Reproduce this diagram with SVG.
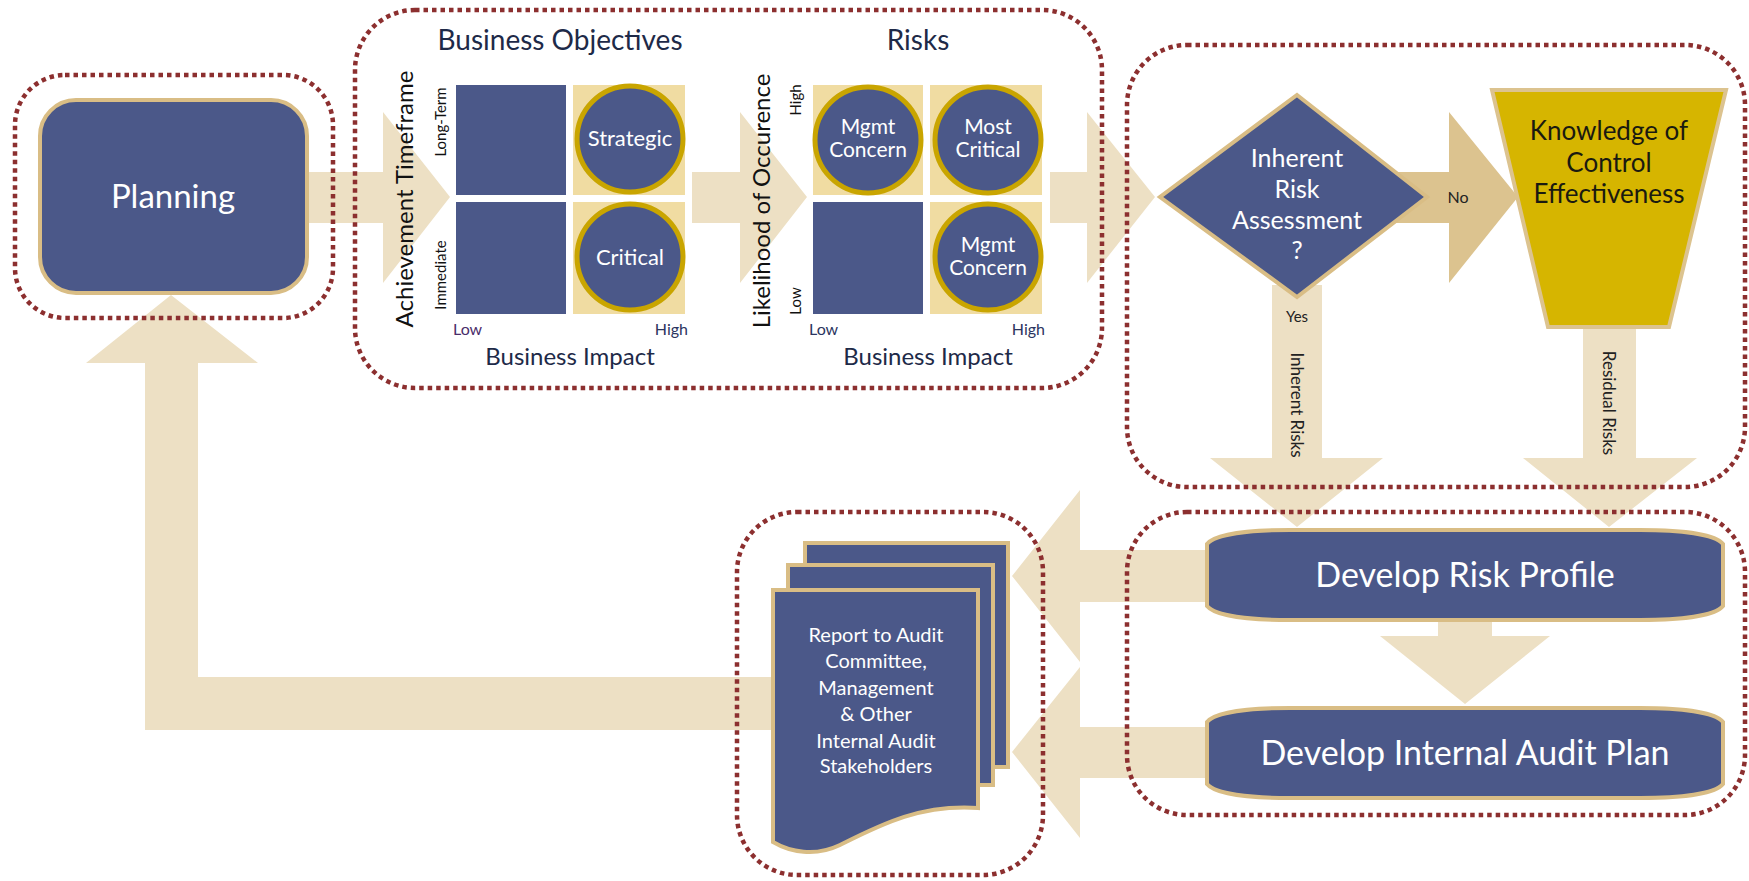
<svg xmlns="http://www.w3.org/2000/svg" width="1749" height="881" viewBox="0 0 1749 881">
<style>
.arrow{fill:#ede0c4}
.arrowd{fill:#dcc38f}
.dot{fill:none;stroke:#8c2f2f;stroke-width:4.5;stroke-dasharray:4.5 4}
.blue{fill:#4b5889}
.node{fill:#4b5889;stroke:#d9bd85;stroke-width:4}
.q{fill:#f0dca2}
.ring{fill:#4b5889;stroke:#c9a500;stroke-width:5}
text{font-family:Lato,"Open Sans","Liberation Sans",sans-serif}
.w{fill:#ffffff;text-anchor:middle}
.t{fill:#1e2a48;text-anchor:middle}
.ax{fill:#111111;text-anchor:middle}
.lh{fill:#2b3560;font-size:16px}
.c{font-size:21px}
.d{font-size:25px}
</style>
<rect width="1749" height="881" fill="#ffffff"/>
<g id="connectors">
<polygon class="arrow" points="300,172 383,172 383,112 450,197 383,283 383,223 300,223"/>
<polygon class="arrow" points="692,172 740,172 740,112 807,197 740,283 740,223 692,223"/>
<polygon class="arrow" points="1050,172 1087,172 1087,112 1155,197 1087,283 1087,223 1050,223"/>
<polygon class="arrowd" points="1370,172 1449,172 1449,112 1518,197 1449,283 1449,223 1370,223"/>
<polygon class="arrow" points="1272,285 1322,285 1322,458 1383,458 1297,527 1210,458 1272,458"/>
<polygon class="arrow" points="1583,320 1636,320 1636,458 1697,458 1609,527 1523,458 1583,458"/>
<polygon class="arrow" points="1438,612 1492,612 1492,636 1550,636 1465,704 1380,636 1438,636"/>
<polygon class="arrow" points="1215,550 1080,550 1080,490 1012,576 1080,662 1080,602 1215,602"/>
<polygon class="arrow" points="1215,727 1080,727 1080,667 1012,752 1080,838 1080,778 1215,778"/>
<polygon class="arrow" points="790,677 198,677 198,363 258,363 171,295 86,363 145,363 145,730 790,730"/>
<text x="1297" y="322" class="ax" style="font-size:15px;fill:#222">Yes</text>
<text x="1458" y="203" class="ax" style="font-size:16px;fill:#222">No</text>
<text transform="translate(1291,405) rotate(90)" class="ax" style="font-size:17px;fill:#222">Inherent Risks</text>
<text transform="translate(1603,403) rotate(90)" class="ax" style="font-size:17px;fill:#222">Residual Risks</text>
</g>
<g id="groups">
<rect class="dot" x="15" y="75" width="318" height="243" rx="50"/>
<rect class="dot" x="355" y="10" width="747" height="378" rx="60"/>
<rect class="dot" x="1127" y="45" width="618" height="442" rx="60"/>
<rect class="dot" x="1127" y="512" width="618" height="303" rx="60"/>
<rect class="dot" x="737" y="512" width="306" height="363" rx="60"/>
</g>
<g id="planning">
<rect class="node" x="40" y="100" width="267" height="193" rx="36"/>
<text x="173" y="208" class="w" style="font-size:33px">Planning</text>
</g>
<g id="business-objectives">
<text x="560" y="50" class="t" style="font-size:28px">Business Objectives</text>
<rect class="blue" x="456" y="85" width="110" height="110"/>
<rect class="q" x="573" y="85" width="112" height="110"/>
<rect class="blue" x="456" y="202" width="110" height="112"/>
<rect class="q" x="573" y="202" width="112" height="112"/>
<circle class="ring" cx="630" cy="139" r="53"/>
<circle class="ring" cx="630" cy="257" r="53"/>
<text x="630" y="146" class="w" style="font-size:22px">Strategic</text>
<text x="630" y="265" class="w" style="font-size:22px">Critical</text>
<text transform="translate(413,199) rotate(-90)" class="ax" style="font-size:24px">Achievement Timeframe</text>
<text transform="translate(446,122) rotate(-90)" class="ax" style="font-size:15px">Long-Term</text>
<text transform="translate(446,275) rotate(-90)" class="ax" style="font-size:15px">Immediate</text>
<text x="453" y="335" class="lh" style="fill:#4a2d6a">Low</text>
<text x="688" y="335" class="lh" text-anchor="end">High</text>
<text x="570" y="365" class="t" style="font-size:24px">Business Impact</text>
</g>
<g id="risks">
<text x="918" y="50" class="t" style="font-size:28px">Risks</text>
<rect class="q" x="813" y="85" width="110" height="110"/>
<rect class="q" x="930" y="85" width="112" height="110"/>
<rect class="blue" x="813" y="202" width="110" height="112"/>
<rect class="q" x="930" y="202" width="112" height="112"/>
<circle class="ring" cx="868" cy="140" r="53"/>
<circle class="ring" cx="988" cy="140" r="53"/>
<circle class="ring" cx="988" cy="257" r="53"/>
<text x="868" y="134" class="w c">Mgmt</text>
<text x="868" y="157" class="w c">Concern</text>
<text x="988" y="134" class="w c">Most</text>
<text x="988" y="157" class="w c">Critical</text>
<text x="988" y="252" class="w c">Mgmt</text>
<text x="988" y="275" class="w c">Concern</text>
<text transform="translate(770,201) rotate(-90)" class="ax" style="font-size:24px">Likelihood of Occurence</text>
<text transform="translate(801,100) rotate(-90)" class="ax" style="font-size:15px">High</text>
<text transform="translate(801,301) rotate(-90)" class="ax" style="font-size:15px">Low</text>
<text x="809" y="335" class="lh">Low</text>
<text x="1045" y="335" class="lh" text-anchor="end">High</text>
<text x="928" y="365" class="t" style="font-size:24px">Business Impact</text>
</g>
<g id="inherent-risk-assessment">
<polygon class="node" points="1297,95 1427,197 1297,297 1160,197"/>
<text x="1297" y="167" class="w d">Inherent</text>
<text x="1297" y="198" class="w d">Risk</text>
<text x="1297" y="229" class="w d">Assessment</text>
<text x="1297" y="259" class="w d">?</text>
</g>
<g id="knowledge-of-control">
<polygon points="1492,90 1726,90 1669,327 1548,327" style="fill:#d6b500;stroke:#dcc38f;stroke-width:4"/>
<text x="1609" y="140" class="t" style="font-size:26px;fill:#1a1a10">Knowledge of</text>
<text x="1609" y="172" class="t" style="font-size:26px;fill:#1a1a10">Control</text>
<text x="1609" y="203" class="t" style="font-size:26px;fill:#1a1a10">Effectiveness</text>
</g>
<g id="develop-risk-profile">
<path class="node" d="M1207,544 C1215,534 1250,530 1290,530 L1640,530 C1680,530 1715,534 1723,544 L1723,606 C1715,616 1680,620 1640,620 L1290,620 C1250,620 1215,616 1207,606 Z"/>
<text x="1465" y="587" class="w" style="font-size:34px">Develop Risk Profile</text>
</g>
<g id="develop-internal-audit-plan">
<path class="node" d="M1207,722 C1215,712 1250,708 1290,708 L1640,708 C1680,708 1715,712 1723,722 L1723,784 C1715,794 1680,798 1640,798 L1290,798 C1250,798 1215,794 1207,784 Z"/>
<text x="1465" y="765" class="w" style="font-size:34px">Develop Internal Audit Plan</text>
</g>
<g id="report">
<rect class="node" x="805" y="543" width="203" height="224"/>
<rect class="node" x="788" y="565" width="205" height="220"/>
<path class="node" d="M773,590 L978,590 L978,808 C920,804 880,825 840,845 C815,857 790,852 773,842 Z"/>
<text x="876" y="642" class="w" style="font-size:20px">Report to Audit</text>
<text x="876" y="668" class="w" style="font-size:20px">Committee,</text>
<text x="876" y="695" class="w" style="font-size:20px">Management</text>
<text x="876" y="721" class="w" style="font-size:20px">&amp; Other</text>
<text x="876" y="748" class="w" style="font-size:20px">Internal Audit</text>
<text x="876" y="773" class="w" style="font-size:20px">Stakeholders</text>
</g>
</svg>
